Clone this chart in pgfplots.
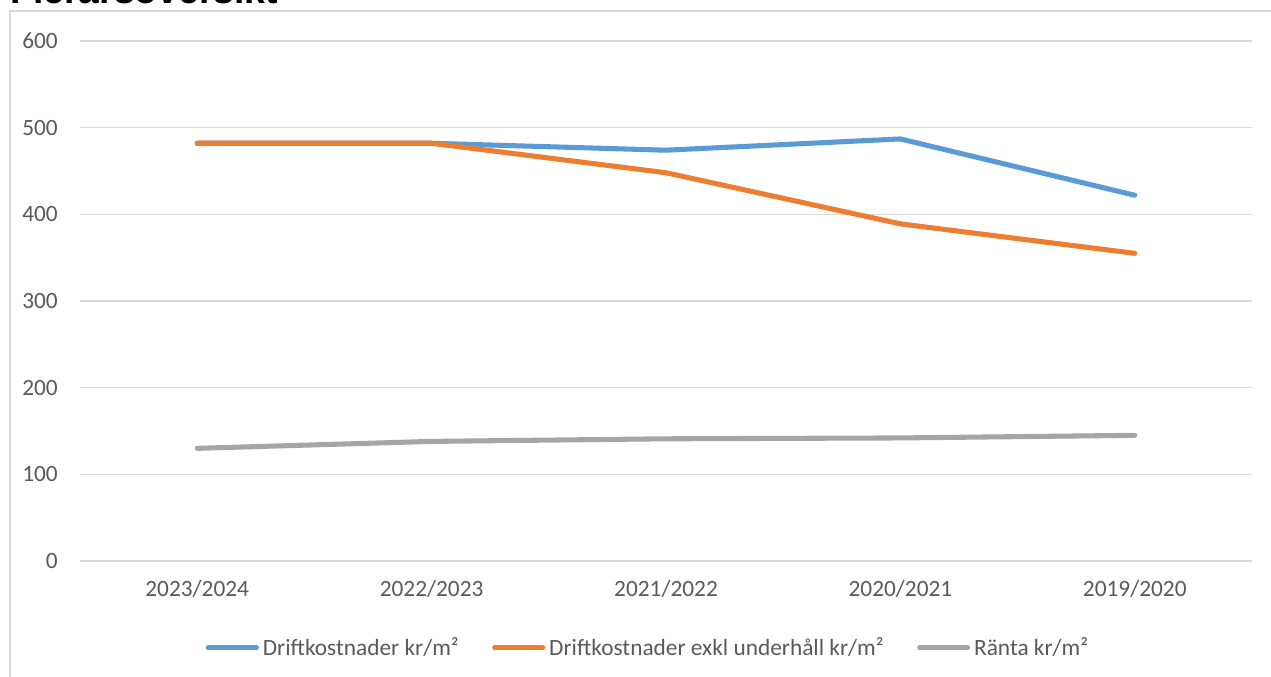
\documentclass[border=0pt]{standalone}
\usepackage{fontspec}
\setmainfont{Carlito}
\newfontfamily\titlefont{Liberation Sans}
\usepackage{pgfplots}
\pgfplotsset{compat=1.18}
\definecolor{cblue}{HTML}{5B9BD5}
\definecolor{corange}{HTML}{ED7D31}
\definecolor{cgray}{HTML}{A5A5A5}
\definecolor{ctext}{HTML}{595959}
\definecolor{cgrid}{HTML}{D9D9D9}
\begin{document}
\begin{tikzpicture}
\draw[cgrid, line width=1pt] (7.5pt,-600pt) -- (7.5pt,-8.25pt) -- (1000pt,-8.25pt);
\node[anchor=base west, inner sep=0pt, font=\titlefont\bfseries\fontsize{28}{32}\selectfont] at (7.5pt,-3pt) {Flerårsöversikt};
\begin{axis}[
  at={(60pt,-420.75pt)}, anchor=south west,
  scale only axis, width=879pt, height=390pt,
  xmin=-0.5, xmax=4.5, ymin=0, ymax=600,
  xtick={0,...,4},
  xticklabels={2023/2024,2022/2023,2021/2022,2020/2021,2019/2020},
  ytick={0,100,...,600},
  ymajorgrids, grid style={cgrid, line width=1.1pt},
  axis line style={draw=none}, major tick length=0pt,
  tick label style={font=\fontsize{17.5}{21}\selectfont, text=ctext},
  /pgf/number format/assume math mode=true,
  yticklabel style={inner sep=0pt, xshift=-16.5pt},
  xticklabel style={inner sep=0pt, yshift=-14pt},
  legend columns=3,
  legend style={draw=none, fill=none, at={(0.4855,-0.167)}, anchor=center,
    font=\fontsize{17.5}{21}\selectfont, text=ctext,
    /tikz/every even column/.append style={column sep=22pt},
    nodes={inner xsep=3pt}},
  legend image code/.code={\draw[#1, line width=3.8pt, line cap=round] (0pt,0pt) -- (36pt,0pt);},
  clip=false,
  every axis plot/.append style={line width=3.8pt, line cap=round, line join=round},
]
\addplot[cblue] coordinates {(0,482) (1,482) (2,474) (3,487) (4,422)};
\addlegendentry{Driftkostnader kr/m²}
\addplot[corange] coordinates {(0,482) (1,482) (2,448) (3,389) (4,355)};
\addlegendentry{Driftkostnader exkl underhåll kr/m²}
\addplot[cgray] coordinates {(0,130) (1,138) (2,141) (3,142) (4,145)};
\addlegendentry{Ränta kr/m²}
\end{axis}
\pgfresetboundingbox
\useasboundingbox (0pt,0pt) rectangle (953.25pt,-507.75pt);
\end{tikzpicture}
\end{document}
